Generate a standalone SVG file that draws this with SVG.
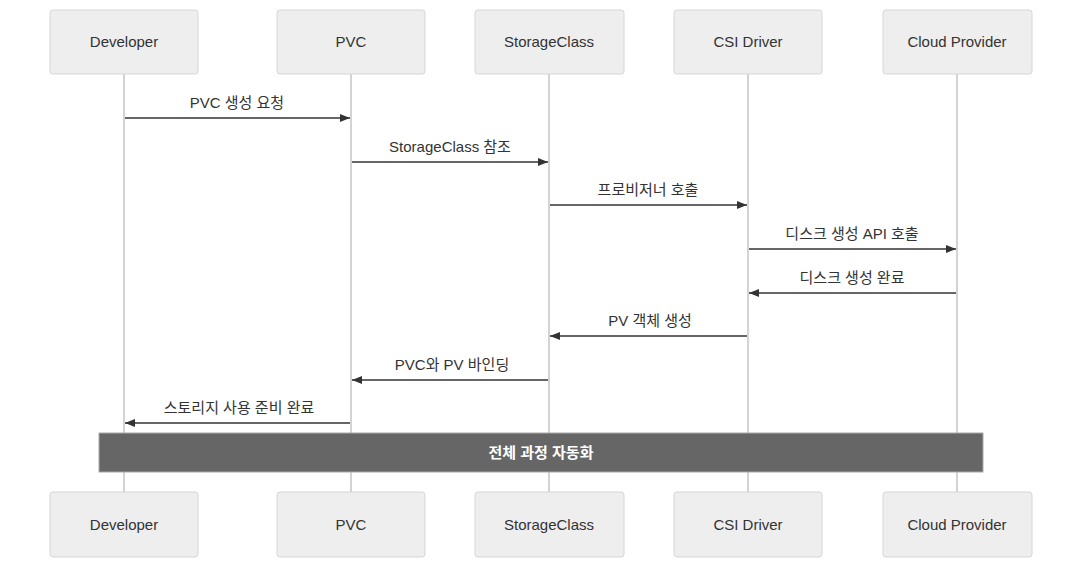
<svg xmlns="http://www.w3.org/2000/svg" width="1090" height="572" viewBox="0 0 1090 572">
<defs>
<marker id="ah" viewBox="0 0 10 8" refX="10" refY="4" markerWidth="10" markerHeight="8" markerUnits="userSpaceOnUse" orient="auto">
<path d="M0,0 L10,4 L0,8 z" fill="#333"/>
</marker>
<style>
.box{fill:#eeeeee;stroke:#d6d6d6;stroke-width:1}
.lbl{font-family:"Liberation Sans","Noto Sans CJK KR",sans-serif;font-size:15px;fill:#333;text-anchor:middle}
.life{stroke:#d3d3d3;stroke-width:2}
.msg{stroke:#333;stroke-width:1.5;fill:none;marker-end:url(#ah)}
.mt{font-family:"Liberation Sans","Noto Sans CJK KR",sans-serif;font-size:15px;fill:#333;text-anchor:middle}
.note{fill:#666666;stroke:#aaaaaa;stroke-width:1}
.nt{font-family:"Liberation Sans","Noto Sans CJK KR",sans-serif;font-size:15px;font-weight:bold;fill:#ffffff;text-anchor:middle}
</style>
</defs>
<rect width="1090" height="572" fill="#ffffff"/>
<g id="lifelines">
<line class="life" x1="124" y1="74" x2="124" y2="492"/>
<line class="life" x1="351" y1="74" x2="351" y2="492"/>
<line class="life" x1="549" y1="74" x2="549" y2="492"/>
<line class="life" x1="748" y1="74" x2="748" y2="492"/>
<line class="life" x1="957" y1="74" x2="957" y2="492"/>
</g>
<g id="developer">
<rect class="box" x="50" y="10" width="148" height="64" rx="3"/>
<text class="lbl" x="124" y="47">Developer</text>
<rect class="box" x="50" y="492" width="148" height="65" rx="3"/>
<text class="lbl" x="124" y="530">Developer</text>
</g>
<g id="pvc">
<rect class="box" x="277" y="10" width="148" height="64" rx="3"/>
<text class="lbl" x="351" y="47">PVC</text>
<rect class="box" x="277" y="492" width="148" height="65" rx="3"/>
<text class="lbl" x="351" y="530">PVC</text>
</g>
<g id="storageclass">
<rect class="box" x="475" y="10" width="149" height="64" rx="3"/>
<text class="lbl" x="549" y="47">StorageClass</text>
<rect class="box" x="475" y="492" width="149" height="65" rx="3"/>
<text class="lbl" x="549" y="530">StorageClass</text>
</g>
<g id="csidriver">
<rect class="box" x="674" y="10" width="148" height="64" rx="3"/>
<text class="lbl" x="748" y="47">CSI Driver</text>
<rect class="box" x="674" y="492" width="148" height="65" rx="3"/>
<text class="lbl" x="748" y="530">CSI Driver</text>
</g>
<g id="cloudprovider">
<rect class="box" x="883" y="10" width="149" height="64" rx="3"/>
<text class="lbl" x="957" y="47">Cloud Provider</text>
<rect class="box" x="883" y="492" width="149" height="65" rx="3"/>
<text class="lbl" x="957" y="530">Cloud Provider</text>
</g>
<g id="connectors">
<line class="msg" x1="125" y1="118" x2="350" y2="118"/>
<text class="mt" x="237" y="108">PVC 생성 요청</text>
<line class="msg" x1="352" y1="162" x2="548" y2="162"/>
<text class="mt" x="450" y="152">StorageClass 참조</text>
<line class="msg" x1="550" y1="205" x2="747" y2="205"/>
<text class="mt" x="648" y="195">프로비저너 호출</text>
<line class="msg" x1="749" y1="249" x2="956" y2="249"/>
<text class="mt" x="852" y="239">디스크 생성 API 호출</text>
<line class="msg" x1="956" y1="293" x2="749" y2="293"/>
<text class="mt" x="852" y="283">디스크 생성 완료</text>
<line class="msg" x1="747" y1="336" x2="550" y2="336"/>
<text class="mt" x="650" y="326">PV 객체 생성</text>
<line class="msg" x1="548" y1="380" x2="352" y2="380"/>
<text class="mt" x="452" y="370">PVC와 PV 바인딩</text>
<line class="msg" x1="350" y1="423" x2="125" y2="423"/>
<text class="mt" x="239" y="413">스토리지 사용 준비 완료</text>
</g>
<g id="note">
<rect class="note" x="99" y="433" width="884" height="39"/>
<text class="nt" x="541" y="458">전체 과정 자동화</text>
</g>
</svg>
